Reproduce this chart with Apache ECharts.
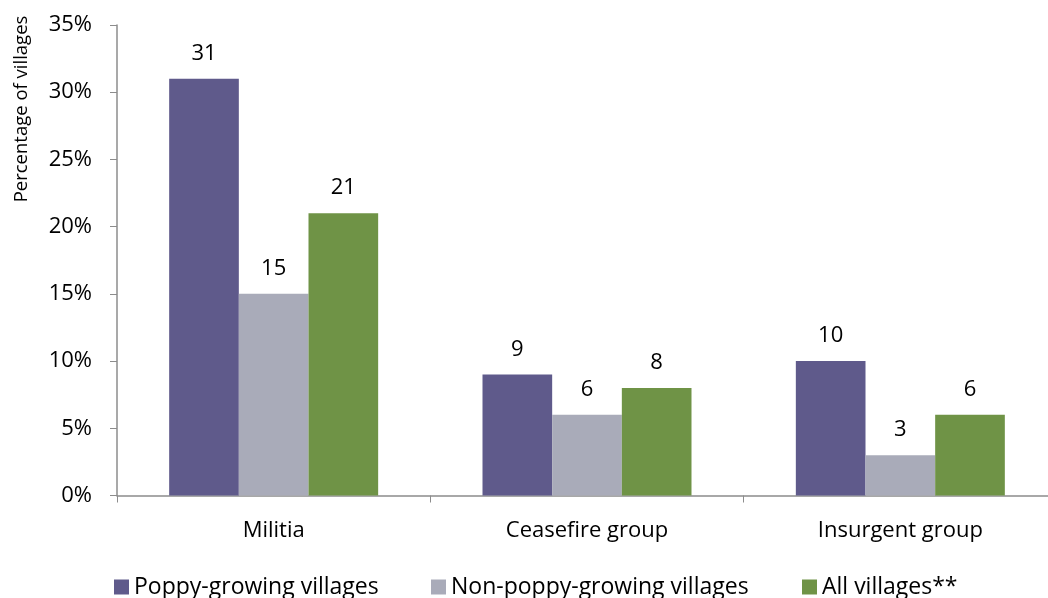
<!DOCTYPE html>
<html>
<head>
<meta charset="utf-8">
<script src="https://cdn.jsdelivr.net/npm/echarts@6/dist/echarts.min.js"></script>
<style>
  html, body { margin: 0; padding: 0; background: #fff; }
  #chart { width: 1048px; height: 598px; }
</style>
</head>
<body>
<div id="chart"></div>
<script>
// Share of villages reporting each armed group, by village type (%)
const categories = ['Militia', 'Ceasefire group', 'Insurgent group'];
const poppyGrowing = [31, 9, 10];
const nonPoppyGrowing = [15, 6, 3];
const allVillages = [21, 8, 6];
const yTicks = [0, 5, 10, 15, 20, 25, 30, 35];

const FONT = '"Open Sans", sans-serif';
const colors = { poppy: '#5f5a8b', nonPoppy: '#a9abb9', all: '#6f9346' };
const axisGrey = '#8c8c8c';

const chart = echarts.init(document.getElementById('chart'), null, { renderer: 'canvas' });

function barSeries(name, data, color) {
  return {
    name: name,
    type: 'bar',
    data: data,
    barGap: '0%',
    barCategoryGap: '33.3%',
    itemStyle: { color: color },
    label: {
      show: true,
      position: 'top',
      distance: 14,
      color: '#000',
      fontFamily: FONT,
      fontSize: 22
    }
  };
}

function legendAt(left, name) {
  return {
    data: [name],
    left: left,
    top: 574,
    padding: 0,
    icon: 'rect',
    itemWidth: 15,
    itemHeight: 15,
    itemGap: 0,
    textStyle: { fontFamily: FONT, fontSize: 23, lineHeight: 26, color: '#000' },
    selectedMode: false
  };
}

chart.setOption({
  animation: false,
  backgroundColor: '#fff',
  textStyle: { fontFamily: FONT },
  grid: {
    left: 117, top: 25, width: 940, height: 470.5,
    containLabel: false,
    outerBoundsMode: 'none'
  },
  legend: [
    legendAt(114, 'Poppy-growing villages'),
    legendAt(431, 'Non-poppy-growing villages'),
    legendAt(802, 'All villages**')
  ],
  graphic: [{
    type: 'text',
    x: 22,
    y: 109,
    rotation: Math.PI / 2,
    style: {
      text: 'Percentage of villages',
      fontFamily: FONT,
      fontSize: 18.5,
      fill: '#000',
      align: 'center',
      verticalAlign: 'middle'
    }
  }],
  xAxis: {
    type: 'category',
    data: categories,
    axisLine: { lineStyle: { color: axisGrey, width: 1.5 } },
    axisTick: { show: true, length: 7, lineStyle: { color: axisGrey } },
    axisLabel: { margin: 24, color: '#000', fontFamily: FONT, fontSize: 22 }
  },
  yAxis: {
    type: 'value',
    min: yTicks[0],
    max: yTicks[yTicks.length - 1],
    interval: 5,
    splitLine: { show: false },
    axisLine: { show: true, lineStyle: { color: axisGrey, width: 1.5 } },
    axisTick: { show: true, length: 7, lineStyle: { color: axisGrey } },
    axisLabel: {
      margin: 25,
      color: '#000',
      fontFamily: FONT,
      fontSize: 22,
      formatter: v => v + '%'
    }
  },
  series: [
    barSeries('Poppy-growing villages', poppyGrowing, colors.poppy),
    barSeries('Non-poppy-growing villages', nonPoppyGrowing, colors.nonPoppy),
    barSeries('All villages**', allVillages, colors.all)
  ]
});
</script>
</body>
</html>
